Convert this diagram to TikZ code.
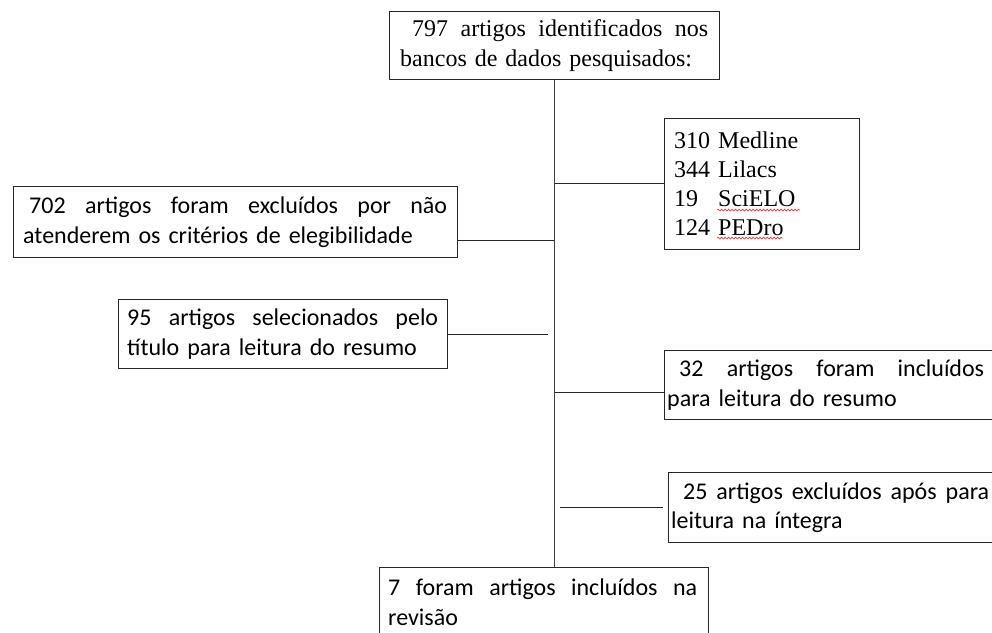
\documentclass[tikz,border=0pt]{standalone}
\usepackage{fontspec}
\setmainfont{Liberation Serif}
\newfontfamily\calibri{Carlito}
\usetikzlibrary{calc,decorations.pathmorphing}
\newcommand\jline[2]{\hbox to #1{#2}}
\begin{document}
\begin{tikzpicture}[x=1bp,y=-1bp,
  boxframe/.style={draw=black!85, line width=1bp, inner sep=0pt, anchor=north west},
  serift/.style={font=\fontsize{24bp}{30bp}\selectfont, inner sep=0pt, anchor=west, align=left},
  calt/.style={font=\calibri\fontsize{24bp}{29.5bp}\selectfont, inner sep=0pt, anchor=west, align=left},
  conn/.style={draw=black!85, line width=1bp},
  vline/.style={draw=black!75, line width=1.6bp},
  squig/.style={draw=red!85, line width=0.6bp, decorate, decoration={snake, amplitude=0.9bp, segment length=3.5bp}}]
\path[use as bounding box, clip] (0,0) rectangle (992,633);

% top
\node[boxframe, minimum width=330bp, minimum height=68bp] (top) at (389,11) {};
\node[serift, text width=308bp] (toptxt) at ($(top.west)+(11,0)$)
  {\jline{308bp}{\hspace*{12bp}797\hfill artigos\hfill identificados\hfill nos}\\bancos de dados pesquisados:};

% sources
\node[boxframe, minimum width=195bp, minimum height=131bp] (src) at (664,118) {};
\node[serift, font=\fontsize{24bp}{29bp}\selectfont, text width=180bp] (srctxt) at ($(src.west)+(10,0)$)
  {310 Medline\\344 Lilacs\\19\phantom{0} SciELO\\124 PEDro};
\coordinate (w1) at ($(srctxt.south west)+(43,-26)$);
\coordinate (w2) at ($(srctxt.south west)+(43,2)$);
\draw[squig] (w1) -- ++(83,0);
\draw[squig] (w2) -- ++(66,0);

% 702
\node[boxframe, minimum width=444bp, minimum height=71bp] (n702) at (13,186) {};
\node[calt, text width=424bp] (t702) at ($(n702.west)+(10,0)$)
  {\jline{424bp}{\hspace*{6bp}702\hfill artigos\hfill foram\hfill excluídos\hfill por\hfill não}\\atenderem os critérios de elegibilidade};

% 95
\node[boxframe, minimum width=329bp, minimum height=69bp] (n95) at (118,299) {};
\node[calt, text width=311bp] (t95) at ($(n95.west)+(9,0)$)
  {\jline{311bp}{95\hfill artigos\hfill selecionados\hfill pelo}\\título para leitura do resumo};

% 32
\node[boxframe, minimum width=340bp, minimum height=69bp] (n32) at (664,350) {};
\node[calt, text width=317bp] (t32) at ($(n32.west)+(3,0)$)
  {\jline{317bp}{\hspace*{12bp}32\hfill artigos\hfill foram\hfill incluídos}\\para leitura do resumo};

% 25
\node[boxframe, minimum width=340bp, minimum height=70bp] (n25) at (668,472) {};
\node[calt, text width=318bp] (t25) at ($(n25.west)+(3,0)$)
  {\jline{318bp}{\hspace*{12bp}25\hfill artigos\hfill excluídos\hfill após\hfill para}\\leitura na íntegra};

% bottom
\node[boxframe, minimum width=329bp, minimum height=70bp] (bot) at (379,567) {};
\node[calt, text width=309bp] (tbot) at ($(bot.west)+(9,0)$)
  {\jline{309bp}{7\hfill foram\hfill artigos\hfill incluídos\hfill na}\\revisão};

% connectors
\draw[vline] (top.south) -- (top.south |- bot.north);
\draw[conn] (src.west) -- (src.west -| top.south);
\coordinate (c702) at ($(n702.south east)+(0,-18)$);
\draw[conn] (c702) -- (c702 -| top.south);
\coordinate (e95) at ($(n95.east -| top.south)+(-7,0)$);
\draw[conn] (n95.east) -- (e95);
\coordinate (c32) at ($(n32.south west)+(0,-28)$);
\draw[conn] (c32) -- (c32 -| top.south);
\coordinate (s25) at ($(n25.west -| top.south)+(5,0)$);
\coordinate (e25) at ($(n25.west)+(-5,0)$);
\draw[conn] (s25) -- (e25);
\end{tikzpicture}
\end{document}
